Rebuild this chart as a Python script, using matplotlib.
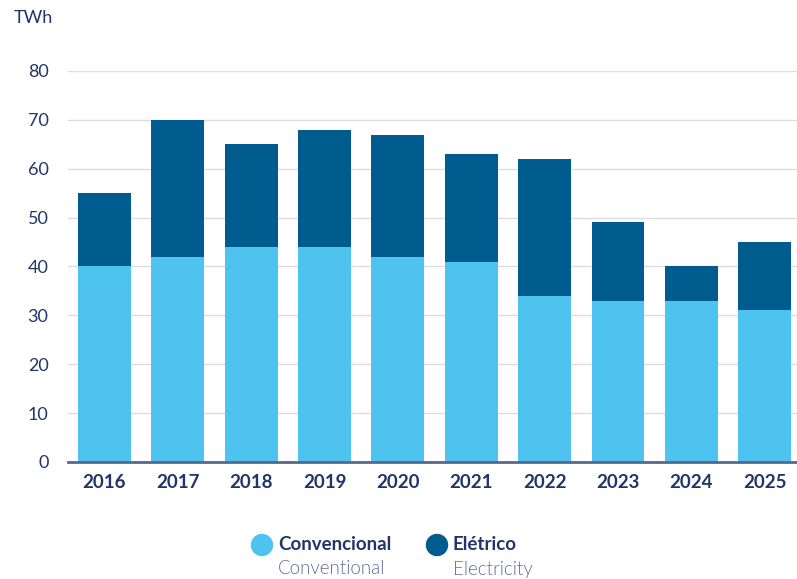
import matplotlib.pyplot as plt
from matplotlib.patches import Circle

years = ['2016', '2017', '2018', '2019', '2020', '2021', '2022', '2023', '2024', '2025']
convencional = [40, 42, 44, 44, 42, 41, 34, 33, 33, 31]
eletrico = [15, 28, 21, 24, 25, 22, 28, 16, 7, 14]
y_ticks = [0, 10, 20, 30, 40, 50, 60, 70, 80]

light_blue = '#4FC3F0'
dark_blue = '#005B8F'
navy = '#22356A'
muted = '#5F6F93'

plt.rcParams['font.family'] = ['Lato', 'DejaVu Sans']

fig = plt.figure(figsize=(7.97, 5.79), dpi=100)
ax = fig.add_axes([0.0853, 0.2021, 0.9147, 0.6753])

x = range(len(years))
ax.bar(x, convencional, width=0.72, color=light_blue, zorder=2)
ax.bar(x, eletrico, width=0.72, bottom=convencional, color=dark_blue, zorder=2)

ax.set_xlim(-0.497, 9.44)
ax.set_ylim(0, 80)
ax.set_yticks(y_ticks)
ax.set_xticks(list(x))
ax.set_xticklabels(years, fontsize=13.5, fontweight='bold', color=navy)
ax.set_yticklabels([str(v) for v in y_ticks], fontsize=13, color=navy)
ax.tick_params(axis='both', length=0)
ax.tick_params(axis='x', pad=9)
ax.tick_params(axis='y', pad=14)

ax.grid(axis='y', color='#DDDDDD', linewidth=1, zorder=0)
for side in ['top', 'right', 'left']:
    ax.spines[side].set_visible(False)
ax.spines['bottom'].set_color('#56688F')
ax.spines['bottom'].set_linewidth(2)
ax.spines['bottom'].set_zorder(3)

fig.text(14 / 797, 1 - 18 / 579, 'TWh', fontsize=13, color=navy, va='center', ha='left')

# legend with bilingual labels
for cx, color, main, sub in [(262, light_blue, 'Convencional', 'Conventional'),
                             (437, dark_blue, 'Elétrico', 'Electricity')]:
    circ = Circle((cx / 100, (579 - 545) / 100), 0.105,
                  transform=fig.dpi_scale_trans, color=color)
    fig.patches.append(circ)
    fig.text((cx + 16) / 797, 1 - 545 / 579, main, fontsize=13.5, fontweight='bold',
             color=navy, va='center', ha='left')
    fig.text((cx + 16) / 797, 1 - 569 / 579, sub, fontsize=13.5, fontweight=300,
             color=muted, va='center', ha='left')

fig.savefig('out.png', dpi=100)
